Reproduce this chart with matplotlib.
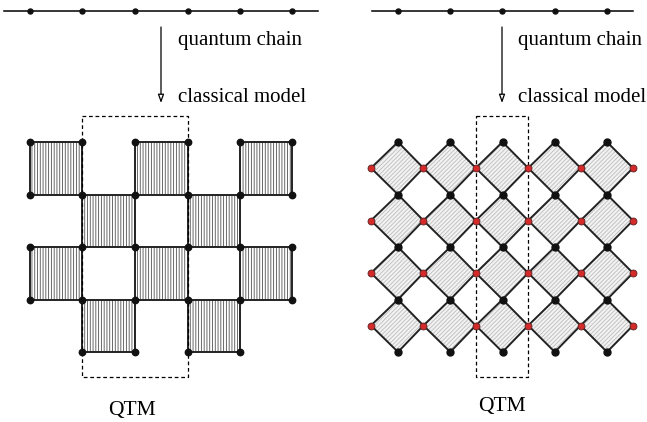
import matplotlib.pyplot as plt
from matplotlib.patches import Polygon, Rectangle

plt.rcParams['font.family'] = ['Liberation Serif', 'DejaVu Serif']
plt.rcParams['hatch.linewidth'] = 0.6

# left panel: square lattice of shaded plaquettes (row, col)
left_x = [30, 82.4, 134.8, 187.6, 240, 292]
left_y = [142, 194.5, 247, 299.5, 352]
left_cells = [(0, 0), (0, 2), (0, 4), (1, 1), (1, 3),
              (2, 0), (2, 2), (2, 4), (3, 1), (3, 3)]
left_chain = [30, 82, 135, 188, 240, 292]

# right panel: rotated lattice, black sites on columns, red sites on rows
right_black_x = [398, 450.3, 502.5, 554.8, 607]
right_black_y = [142, 194.5, 247, 299.5, 352]
right_red_x = [371, 423.4, 475.8, 528.2, 580.6, 633]
right_red_y = [168, 220.5, 273, 325.5]
right_chain = [398, 450, 502, 555, 607]

fig = plt.figure(figsize=(6.47, 4.22), dpi=100)
ax = fig.add_axes([0, 0, 1, 1])
ax.set_xlim(0, 647)
ax.set_ylim(422, 0)
ax.axis('off')

dot = dict(marker='o', color='#111111', linestyle='none', zorder=5)

# chains
ax.plot([4, 318], [10.7, 10.7], color='black', lw=1.1)
ax.plot(left_chain, [10.7] * len(left_chain), markersize=3.6, **dot)
ax.plot([372, 633], [10.7, 10.7], color='black', lw=1.1)
ax.plot(right_chain, [10.7] * len(right_chain), markersize=3.6, **dot)

# arrows and labels
for xa, xt in [(161, 178), (502, 518)]:
    ax.annotate('', xy=(xa, 103), xytext=(xa, 27),
                arrowprops=dict(arrowstyle='-|>,head_length=0.5,head_width=0.18',
                                color='black', lw=0.9, fc='white',
                                shrinkA=0, shrinkB=0))
    ax.text(xt, 40, 'quantum chain', fontsize=15, ha='left', va='center')
    ax.text(xt, 97, 'classical model', fontsize=15, ha='left', va='center')

# left lattice
nodes = set()
for r, c in left_cells:
    x0, x1 = left_x[c], left_x[c + 1]
    y0, y1 = left_y[r], left_y[r + 1]
    ax.add_patch(Rectangle((x0, y0), x1 - x0, y1 - y0, facecolor='white',
                           edgecolor='#505050', hatch='||||||', lw=0, zorder=2))
    ax.plot([x0, x1, x1, x0, x0], [y0, y0, y1, y1, y0], color='#222222',
            lw=1.4, zorder=3)
    nodes.update({(c, r), (c + 1, r), (c, r + 1), (c + 1, r + 1)})
ax.plot([left_x[c] for c, r in nodes], [left_y[r] for c, r in nodes],
        markersize=4.6, **dot)

# right lattice
for i, bx in enumerate(right_black_x):
    for j, ry in enumerate(right_red_y):
        top, bot = right_black_y[j], right_black_y[j + 1]
        lx, rx = right_red_x[i], right_red_x[i + 1]
        pts = [(bx, top), (rx, ry), (bx, bot), (lx, ry)]
        ax.add_patch(Polygon(pts, closed=True, facecolor='#f2f2f2',
                             edgecolor='#bdbdbd', hatch='////////', lw=0, zorder=2))
        ax.add_patch(Polygon(pts, closed=True, fill=False,
                             edgecolor='#222222', lw=1.4, zorder=3))
bx_all = [x for x in right_black_x for y in right_black_y]
by_all = [y for x in right_black_x for y in right_black_y]
ax.plot(bx_all, by_all, markersize=5, **dot)
rx_all = [x for x in right_red_x for y in right_red_y]
ry_all = [y for x in right_red_x for y in right_red_y]
ax.plot(rx_all, ry_all, marker='o', linestyle='none', markersize=5,
        markerfacecolor='#d42a2a', markeredgecolor='#552222', mew=0.6, zorder=5)

# transfer matrix boxes
for x0, x1 in [(82.4, 187.6), (475.8, 528.2)]:
    ax.plot([x0, x1, x1, x0, x0], [116, 116, 377, 377, 116], color='black',
            lw=0.9, linestyle=(0, (3, 2.2)), zorder=4)

ax.text(132, 410, 'QTM', fontsize=15.5, ha='center', va='center')
ax.text(502, 407, 'QTM', fontsize=15.5, ha='center', va='center')

fig.savefig('out.png', dpi=100)
